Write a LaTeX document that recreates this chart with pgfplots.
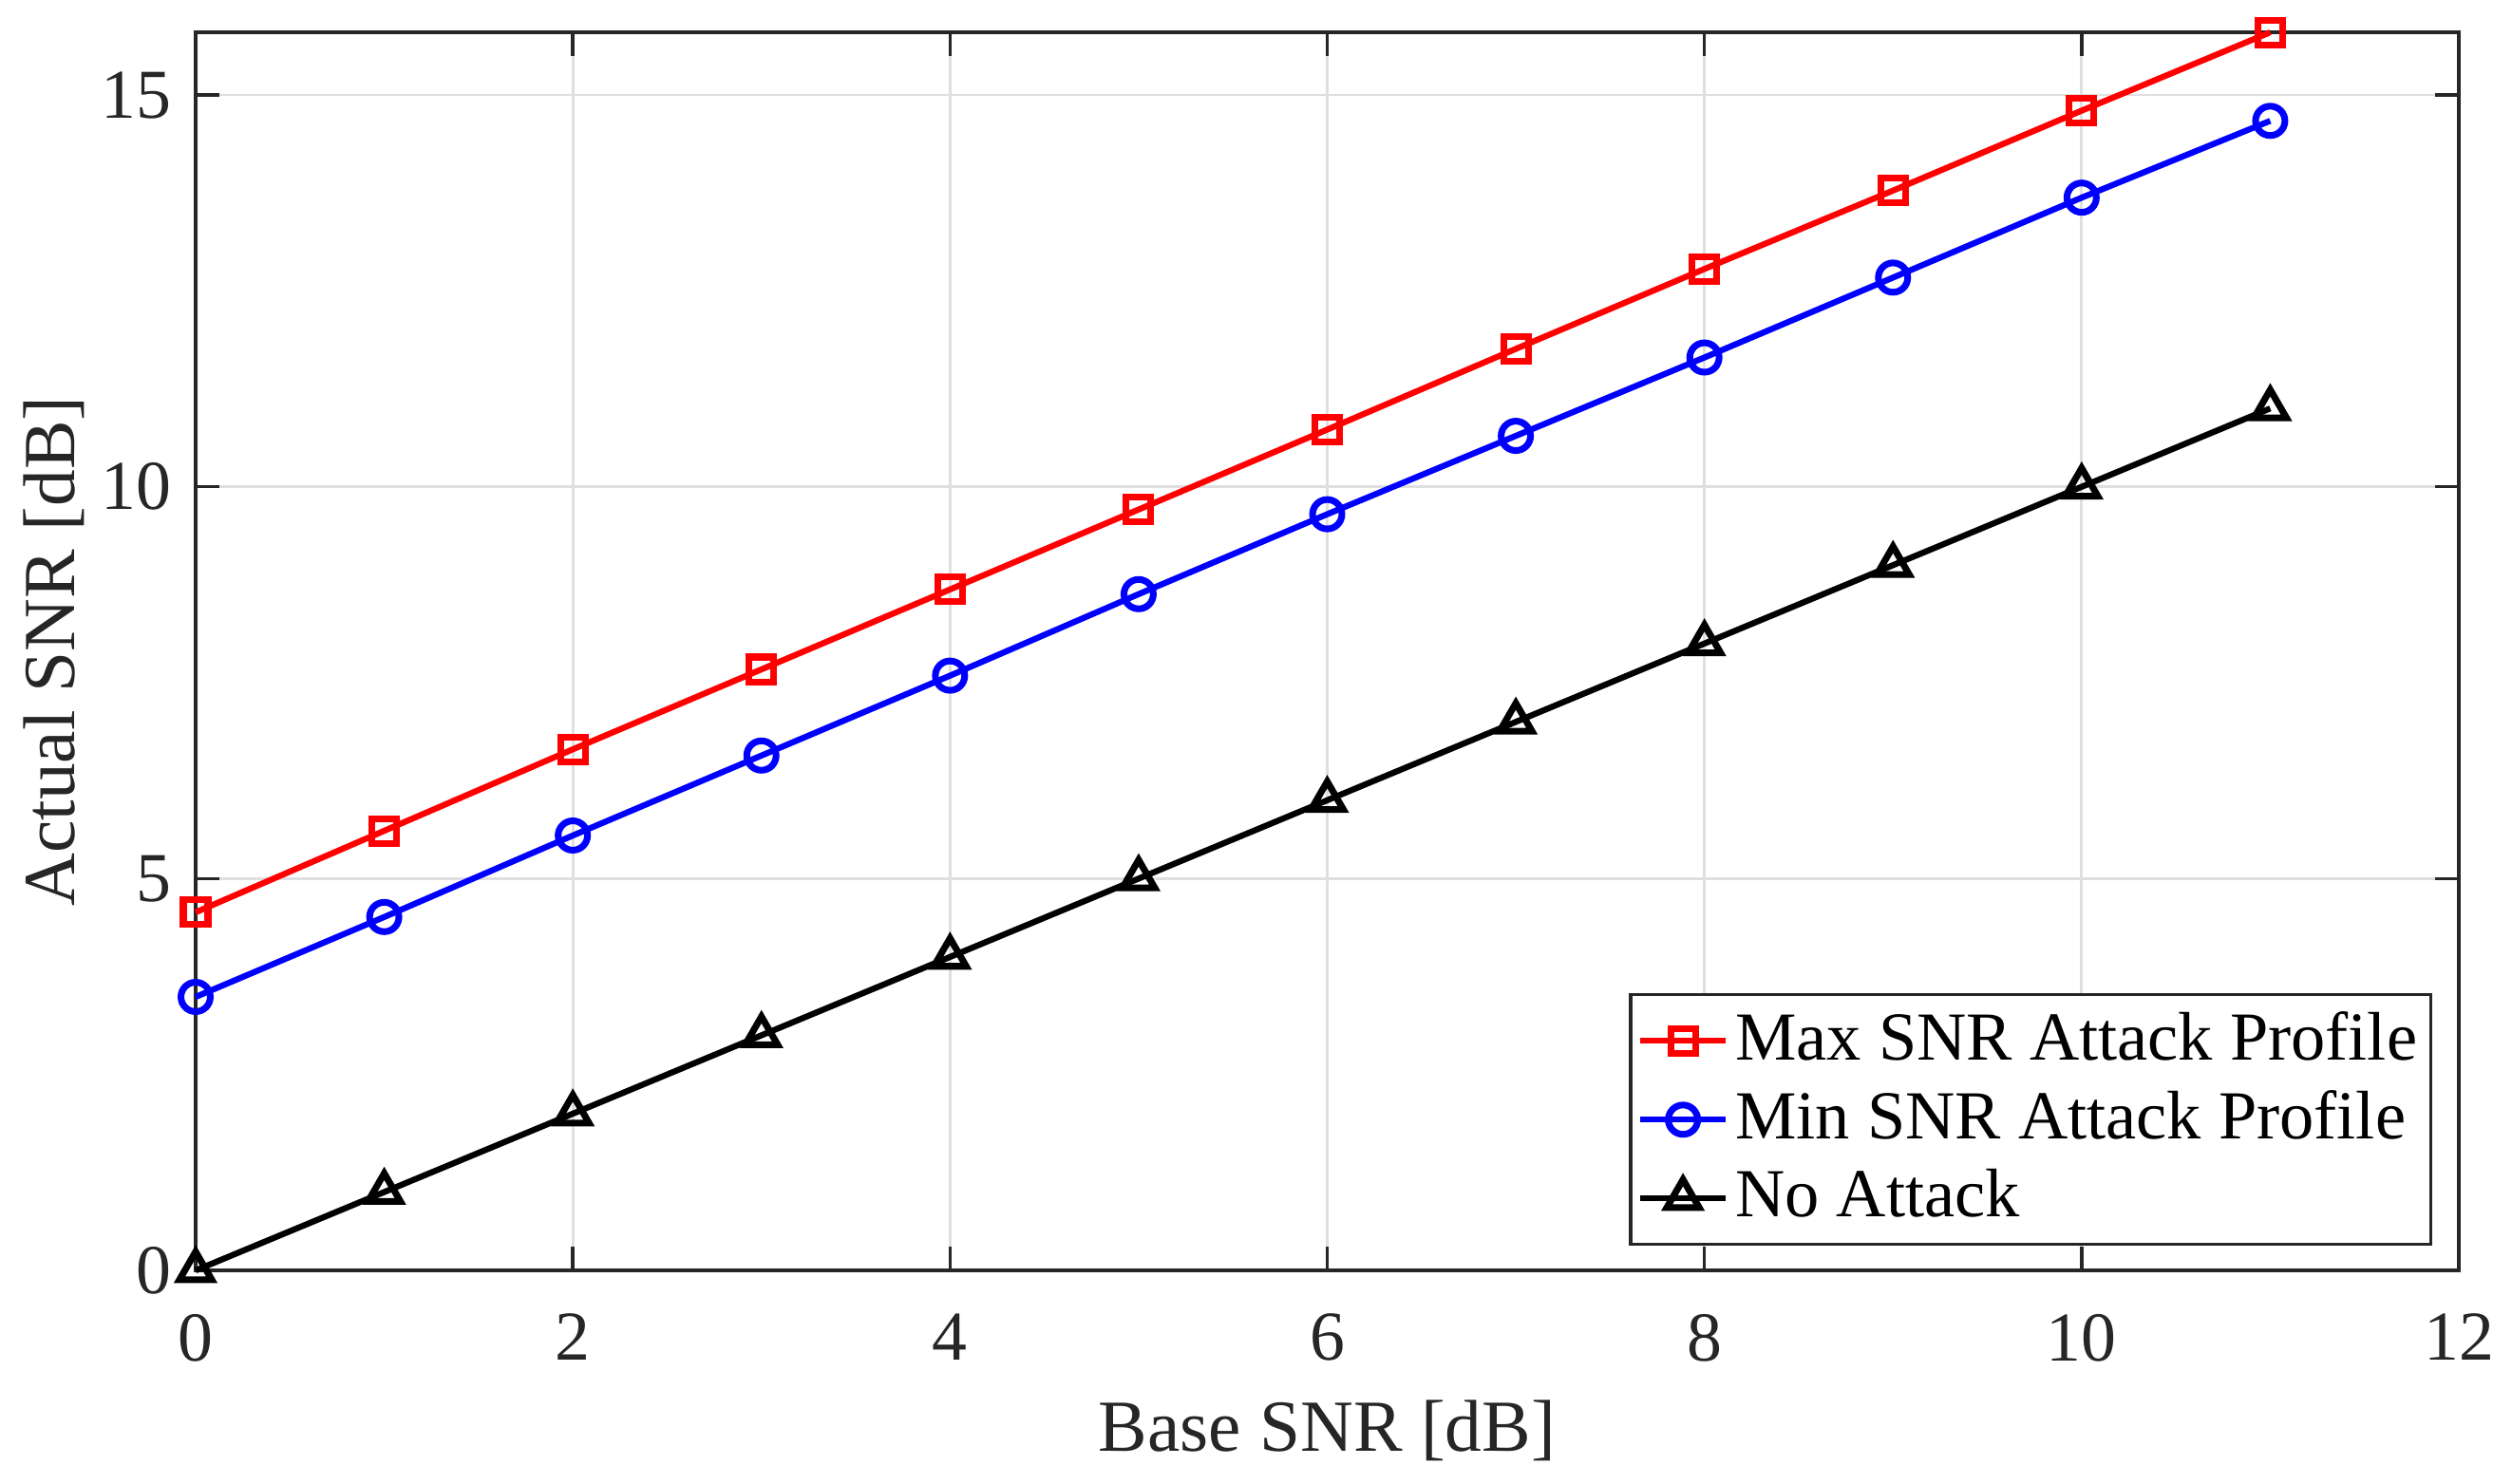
\documentclass[border=0pt]{standalone}
\usepackage{pgfplots}
\pgfplotsset{compat=1.18}
\usepackage{fontspec}
\setmainfont{Liberation Serif}
\definecolor{axgray}{RGB}{38,38,38}
\definecolor{gridgray}{RGB}{223,223,223}
\begin{document}
\fontsize{10.5}{12.6}\selectfont
\begin{tikzpicture}
\useasboundingbox (-1.03cm,-1.12cm) rectangle (12.195cm,6.69cm);
\begin{axis}[
  scale only axis, width=11.915cm, height=6.52cm,
  xmin=0, xmax=12, ymin=0, ymax=15.8,
  xtick={0,2,4,6,8,10,12}, ytick={0,5,10,15},
  clip=false,
  grid=major, major grid style={gridgray, line width=0.4pt},
  axis line style={axgray, line width=0.5pt},
  tick style={axgray, line width=0.5pt},
  tick align=inside, major tick length=0.125cm,
  xtick pos=both, ytick pos=both,
  ticklabel style={text=axgray},
  xticklabel style={yshift=-0.1cm},
  /pgf/number format/assume math mode=true,
  xlabel={Base SNR [dB]}, ylabel={Actual SNR [dB]},
  label style={text=axgray, font=\fontsize{11}{13}\selectfont},
  xlabel style={at={(axis description cs:0.5,0)}, anchor=base, yshift=-0.95cm},
  ylabel style={at={(axis description cs:0,0.5)}, anchor=base, yshift=0.635cm},
  legend style={at={(rel axis cs:1,0)}, anchor=south east, xshift=-0.14cm, yshift=0.13cm,
    draw=axgray, line width=0.5pt, font=\fontsize{10.3}{12}\selectfont,
    inner sep=1pt, nodes={inner xsep=1pt, inner ysep=1.5pt}},
  legend cell align=left,
  legend image code/.code={\draw[mark repeat=2,mark phase=2] plot coordinates {(0cm,0cm) (0.225cm,0cm) (0.45cm,0cm)};},
]
\addplot[red, line width=0.9pt, mark=square, mark size=1.85pt, mark options={solid, line width=1pt}] coordinates {
(0,4.57) (1,5.61) (2,6.65) (3,7.67) (4,8.69) (5,9.71) (6,10.73) (7,11.76) (8,12.78) (9,13.78) (10,14.8) (11,15.8)};
\addlegendentry{Max SNR Attack Profile}
\addplot[blue, line width=0.9pt, mark=o, mark size=2.2pt, mark options={solid, line width=1pt}] coordinates {
(0,3.49) (1,4.51) (2,5.55) (3,6.57) (4,7.59) (5,8.63) (6,9.65) (7,10.65) (8,11.65) (9,12.67) (10,13.69) (11,14.67)};
\addlegendentry{Min SNR Attack Profile}
\addplot[black, line width=0.9pt, mark=triangle, mark size=2.8pt, mark options={solid, line width=1pt}] coordinates {
(0,0) (1,1) (2,2) (3,3) (4,4) (5,5) (6,6) (7,7) (8,8) (9,9) (10,10) (11,11)};
\addlegendentry{No Attack}
\end{axis}
\end{tikzpicture}
\end{document}
